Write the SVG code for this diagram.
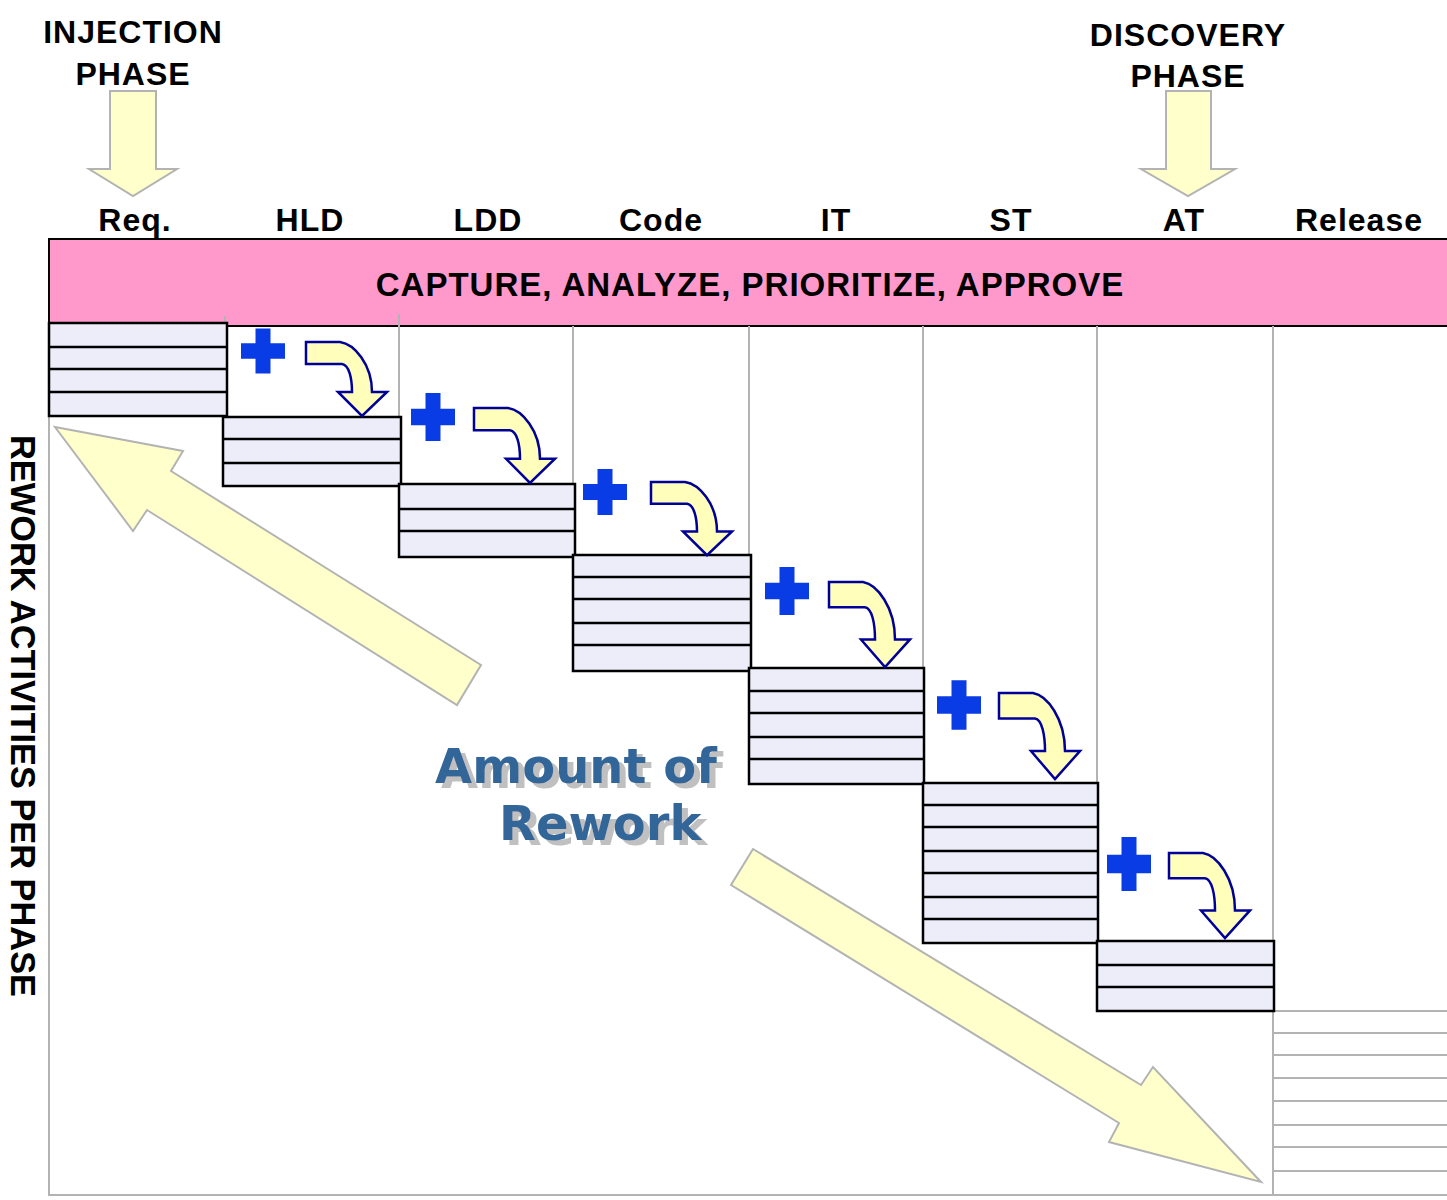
<svg xmlns="http://www.w3.org/2000/svg" xmlns:xlink="http://www.w3.org/1999/xlink" width="1447" height="1200" viewBox="0 0 1447 1200">
  <style>
    .lbl { font-family: "Liberation Sans", Arial, sans-serif; font-weight: bold; fill: #000; }
    .phase { font-size: 32px; letter-spacing: 1px; text-anchor: middle; }
    .col { font-size: 32px; letter-spacing: 1px; text-anchor: middle; }
    .grid { stroke: #b3b3b3; stroke-width: 2; fill: none; }
    .stack { fill: #ededfa; stroke: #000; stroke-width: 2.5; }
    .row { stroke: #000; stroke-width: 2.5; }
    .big { fill: #ffffcc; stroke: #b3b3b3; stroke-width: 2; stroke-linejoin: miter; }
    .curl { fill: #ffffbb; stroke: #000099; stroke-width: 2.5; stroke-linejoin: miter; vector-effect: non-scaling-stroke; }
    .plus { fill: #0a3ce6; }
    .rw { font-family: "DejaVu Sans", Verdana, sans-serif; font-weight: bold; font-size: 48px; fill: #336699; }
  </style>
  <defs>
    <!-- bent "flows into next phase" arrow, 81 x 74 -->
    <path id="curl" class="curl" d="M0,0 H34 C48,2 66,22 66,50 H81 L56,74 L32,50 H46 C46,36 43,23 36,22 H0 Z"/>
    <!-- blue plus sign centred on 0,0 -->
    <path id="plus" class="plus" d="M-7.5,-23 H7.5 V-8 H22 V8 H7.5 V23 H-7.5 V8 H-22 V-8 H-7.5 Z"/>
    <!-- grey offset drop shadow for the caption -->
    <filter id="shadow" x="-10%" y="-20%" width="125%" height="150%">
      <feFlood flood-color="#c0c0c0" result="grey"/>
      <feComposite in="grey" in2="SourceAlpha" operator="in" result="shape"/>
      <feOffset in="shape" dx="6" dy="5" result="offset"/>
      <feMerge>
        <feMergeNode in="offset"/>
        <feMergeNode in="SourceGraphic"/>
      </feMerge>
    </filter>
  </defs>

  <rect width="1447" height="1200" fill="#fff"/>

  <!-- phase markers at the top -->
  <g id="injection-phase">
    <text class="lbl phase" x="133" y="43">INJECTION</text>
    <text class="lbl phase" x="133" y="85">PHASE</text>
    <polygon class="big" points="110,91 156,91 156,169 177,169 133,196 89,169 110,169"/>
  </g>
  <g id="discovery-phase">
    <text class="lbl phase" x="1188" y="46">DISCOVERY</text>
    <text class="lbl phase" x="1188" y="87">PHASE</text>
    <polygon class="big" points="1166,91 1211,91 1211,169 1235,169 1188,196 1141,169 1166,169"/>
  </g>

  <!-- column headings -->
  <g id="phase-columns" class="lbl col">
    <text x="135" y="231">Req.</text>
    <text x="310" y="231">HLD</text>
    <text x="488" y="231">LDD</text>
    <text x="661" y="231">Code</text>
    <text x="836" y="231">IT</text>
    <text x="1011" y="231">ST</text>
    <text x="1184" y="231">AT</text>
    <text x="1359" y="231">Release</text>
  </g>

  <!-- banner -->
  <g id="banner">
    <rect x="49" y="239" width="1410" height="87" fill="#ff99cc" stroke="#000" stroke-width="2"/>
    <text class="lbl" x="750" y="296" font-size="33" letter-spacing="1" text-anchor="middle">CAPTURE, ANALYZE, PRIORITIZE, APPROVE</text>
  </g>

  <!-- column grid -->
  <g id="grid" class="grid">
    <line x1="49" y1="416" x2="49" y2="1196"/>
    <line x1="48" y1="1195" x2="1447" y2="1195"/>
    <line x1="225" y1="316" x2="225" y2="323"/>
    <line x1="399" y1="314" x2="399" y2="484"/>
    <line x1="573" y1="326" x2="573" y2="555"/>
    <line x1="749" y1="326" x2="749" y2="668"/>
    <line x1="923" y1="326" x2="923" y2="783"/>
    <line x1="1097" y1="326" x2="1097" y2="941"/>
    <line x1="1273" y1="326" x2="1273" y2="1195"/>
    <line x1="1273" y1="1011" x2="1447" y2="1011"/>
    <line x1="1273" y1="1033" x2="1447" y2="1033"/>
    <line x1="1273" y1="1055" x2="1447" y2="1055"/>
    <line x1="1273" y1="1078" x2="1447" y2="1078"/>
    <line x1="1273" y1="1101" x2="1447" y2="1101"/>
    <line x1="1273" y1="1125" x2="1447" y2="1125"/>
    <line x1="1273" y1="1147" x2="1447" y2="1147"/>
    <line x1="1273" y1="1171" x2="1447" y2="1171"/>
  </g>

  <!-- rework stacks, one per phase -->
  <g id="stack-req">
    <rect class="stack" x="49" y="323" width="178" height="93"/>
    <line class="row" x1="49" y1="347" x2="227" y2="347"/>
    <line class="row" x1="49" y1="369" x2="227" y2="369"/>
    <line class="row" x1="49" y1="392" x2="227" y2="392"/>
  </g>
  <g id="stack-hld">
    <rect class="stack" x="223" y="417" width="178" height="69"/>
    <line class="row" x1="223" y1="439" x2="401" y2="439"/>
    <line class="row" x1="223" y1="463" x2="401" y2="463"/>
  </g>
  <g id="stack-ldd">
    <rect class="stack" x="399" y="484" width="176" height="73"/>
    <line class="row" x1="399" y1="509" x2="575" y2="509"/>
    <line class="row" x1="399" y1="531" x2="575" y2="531"/>
  </g>
  <g id="stack-code">
    <rect class="stack" x="573" y="555" width="178" height="116"/>
    <line class="row" x1="573" y1="577" x2="751" y2="577"/>
    <line class="row" x1="573" y1="599" x2="751" y2="599"/>
    <line class="row" x1="573" y1="623" x2="751" y2="623"/>
    <line class="row" x1="573" y1="645" x2="751" y2="645"/>
  </g>
  <g id="stack-it">
    <rect class="stack" x="749" y="668" width="175" height="116"/>
    <line class="row" x1="749" y1="691" x2="924" y2="691"/>
    <line class="row" x1="749" y1="713" x2="924" y2="713"/>
    <line class="row" x1="749" y1="737" x2="924" y2="737"/>
    <line class="row" x1="749" y1="759" x2="924" y2="759"/>
  </g>
  <g id="stack-st">
    <rect class="stack" x="923" y="783" width="175" height="160"/>
    <line class="row" x1="923" y1="805" x2="1098" y2="805"/>
    <line class="row" x1="923" y1="827" x2="1098" y2="827"/>
    <line class="row" x1="923" y1="851" x2="1098" y2="851"/>
    <line class="row" x1="923" y1="873" x2="1098" y2="873"/>
    <line class="row" x1="923" y1="897" x2="1098" y2="897"/>
    <line class="row" x1="923" y1="919" x2="1098" y2="919"/>
  </g>
  <g id="stack-at">
    <rect class="stack" x="1097" y="941" width="177" height="70"/>
    <line class="row" x1="1097" y1="965" x2="1274" y2="965"/>
    <line class="row" x1="1097" y1="987" x2="1274" y2="987"/>
  </g>

  <!-- plus signs -->
  <g id="plus-signs">
    <use xlink:href="#plus" transform="translate(263,351) scale(1,0.98)"/>
    <use xlink:href="#plus" transform="translate(433,417) scale(1,1.04)"/>
    <use xlink:href="#plus" transform="translate(605,492)"/>
    <use xlink:href="#plus" transform="translate(787,591) scale(1,1.04)"/>
    <use xlink:href="#plus" transform="translate(959,705) scale(1,1.08)"/>
    <use xlink:href="#plus" transform="translate(1129,864) scale(1,1.17)"/>
  </g>

  <!-- phase-to-phase arrows and overall trend arrows -->
  <g id="connectors">
    <use xlink:href="#curl" transform="translate(306,342)"/>
    <use xlink:href="#curl" transform="translate(474,408) scale(1,1.013)"/>
    <use xlink:href="#curl" transform="translate(651,482) scale(1,0.99)"/>
    <use xlink:href="#curl" transform="translate(829,582) scale(1,1.149)"/>
    <use xlink:href="#curl" transform="translate(999,693) scale(1,1.162)"/>
    <use xlink:href="#curl" transform="translate(1169,853) scale(1,1.149)"/>
    <polygon id="trend-up" class="big" points="55,427 183,451 171,471 481,665 457,705 147,510 133,531"/>
    <polygon id="trend-down" class="big" points="753,849 1141,1085 1153,1067 1261,1182 1109,1142 1119,1123 731,885"/>
  </g>

  <!-- centre caption with drop shadow -->
  <g id="amount-of-rework" class="rw" filter="url(#shadow)">
    <text x="435" y="783">Amount of</text>
    <text x="499" y="840">Rework</text>
  </g>

  <!-- vertical axis title -->
  <g id="axis-title">
    <text class="lbl" transform="translate(11,716) rotate(90)" font-size="35" text-anchor="middle" textLength="562" lengthAdjust="spacingAndGlyphs">REWORK ACTIVITIES PER PHASE</text>
  </g>
</svg>
